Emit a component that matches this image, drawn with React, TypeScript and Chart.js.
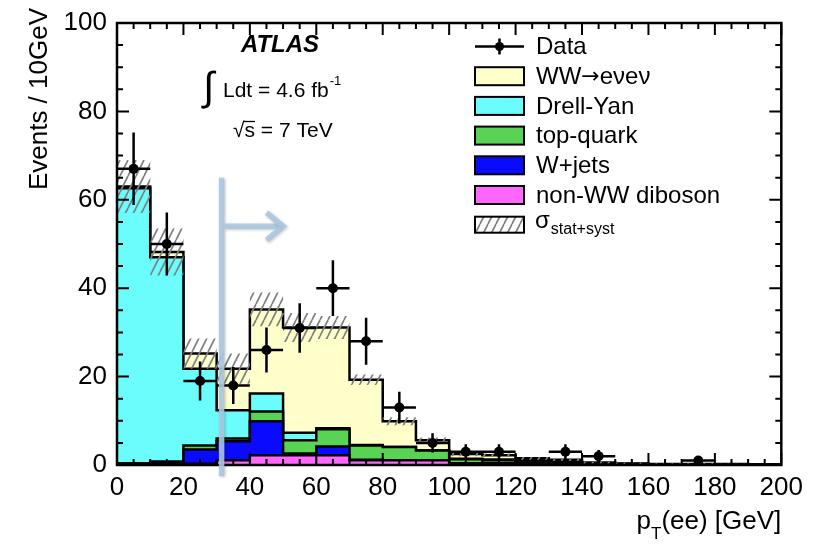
import { useEffect, useRef } from 'react';
import { Chart, registerables } from 'chart.js';

Chart.register(...registerables);

// ---------- data ----------
const binEdges = [0, 10, 20, 30, 40, 50, 60, 70, 80, 90, 100, 110, 120, 130, 140, 150, 160, 170, 180, 190, 200];
const binCenters = [5, 15, 25, 35, 45, 55, 65, 75, 85, 95, 105, 115, 125, 135, 145, 155, 165, 175, 185, 195];

const dataCounts = [67, 50, 19, 18, 26, 31, 40, 28, 13, 5, 3, 3, 0, 3, 2, 0, 0, 1, 0, 0];
const dataErrors = [8.2, 7.1, 4.4, 4.2, 5.1, 5.6, 6.3, 5.3, 3.6, 2.2, 1.7, 1.7, 0, 1.7, 1.4, 0, 0, 1.0, 0, 0];

// stacked backgrounds, bottom to top
const nonWWDiboson = [0.1, 0.1, 0.3, 1.1, 2.2, 2.2, 2.2, 1.1, 1.1, 1.1, 0.3, 0.3, 0.3, 0.1, 0.1, 0.05, 0.05, 0.05, 0.05, 0.05];
const wJets = [0.2, 0.5, 3.2, 4.3, 7.7, 0.4, 2.0, 0.1, 0, 0, 0.1, 0.2, 0.4, 0.1, 0.05, 0.05, 0, 0, 0, 0];
const topQuark = [0.1, 0.2, 0.9, 0.6, 2.2, 3.0, 3.9, 3.2, 3.0, 2.2, 0.9, 0.7, 0.4, 0.5, 0.2, 0.1, 0.1, 0.1, 0.05, 0.05];
const drellYan = [62.2, 46.2, 17.4, 6.4, 4.1, 1.7, 0.2, 0.1, 0, 0, 0.1, 0, 0, 0, 0, 0, 0, 0, 0, 0];
const wwSignal = [0.4, 1.2, 3.4, 9.4, 19.0, 23.8, 22.8, 14.8, 5.8, 2.3, 1.1, 1.0, 0.4, 0.5, 0.2, 0.15, 0.1, 0.1, 0.1, 0.05];

// stat+syst uncertainty on the total prediction
const bandErrors = [6.0, 5.3, 3.4, 3.4, 3.8, 3.3, 2.6, 1.2, 0.9, 0.6, 0.5, 0.4, 0.3, 0.3, 0.2, 0.2, 0.15, 0.15, 0.1, 0.1];

const xMajorTicks = [0, 20, 40, 60, 80, 100, 120, 140, 160, 180, 200];
const yMajorTicks = [0, 20, 40, 60, 80, 100];

const legendLabels = ['Data', 'WW\u2192e\u03BDe\u03BD', 'Drell-Yan', 'top-quark', 'W+jets', 'non-WW diboson'];

// cut arrow annotation (GeV / events)
const cutValue = 31.5;

// ---------- styles ----------
const FONT = '"Liberation Sans", Arial, Helvetica, sans-serif';
const colWW = '#ffffcc';
const colDY = '#6bfcfc';
const colTop = '#59d354';
const colWJ = '#0a0aff';
const colDib = '#ff66ff';

function cumulative(layers: number[][]): number[][] {
  const out: number[][] = [];
  let acc = layers[0].map(() => 0);
  for (const l of layers) {
    acc = acc.map((a, i) => a + l[i]);
    out.push(acc.slice());
  }
  return out;
}

function stepPoints(vals: number[]) {
  const pts = vals.map((v, i) => ({ x: binEdges[i], y: v }));
  pts.push({ x: binEdges[binEdges.length - 1], y: vals[vals.length - 1] });
  return pts;
}

function makeHatch(): CanvasPattern | string {
  const c = document.createElement('canvas');
  c.width = 8;
  c.height = 16;
  const g = c.getContext('2d');
  if (!g) return 'rgba(128,128,128,0.4)';
  g.strokeStyle = '#808080';
  g.lineWidth = 1.7;
  g.beginPath();
  for (const dx of [-8, 0, 8]) {
    g.moveTo(dx, 16);
    g.lineTo(dx + 8, 0);
  }
  g.stroke();
  return g.createPattern(c, 'repeat') as CanvasPattern;
}

export default function App() {
  const ref = useRef<HTMLCanvasElement>(null);

  useEffect(() => {
    const canvas = ref.current;
    if (!canvas) return;
    const hatch = makeHatch();

    const cum = cumulative([nonWWDiboson, wJets, topQuark, drellYan, wwSignal]);
    const total = cum[4];
    const bandUp = total.map((t, i) => t + bandErrors[i]);
    const bandDown = total.map((t, i) => Math.max(0, t - bandErrors[i]));

    const dataPts = binCenters
      .map((x, i) => ({ x, y: dataCounts[i] }))
      .filter((p) => p.y > 0);

    const layerDs = (vals: number[], color: string, order: number, label: string) => ({
      type: 'line' as const,
      label,
      data: stepPoints(vals),
      stepped: 'before' as const,
      fill: 'origin' as const,
      backgroundColor: color,
      borderColor: '#000',
      borderWidth: 2.5,
      pointRadius: 0,
      order,
    });

    const drawMixed = (ctx: CanvasRenderingContext2D, label: string, x: number, y: number) => {
      // render the arrow glyph with a font that has a full-size arrow
      const parts = label.split('\u2192');
      let cx = x;
      parts.forEach((p, k) => {
        ctx.font = `24px ${FONT}`;
        ctx.fillText(p, cx, y);
        cx += ctx.measureText(p).width;
        if (k < parts.length - 1) {
          ctx.font = `22px "DejaVu Sans", sans-serif`;
          ctx.fillText('\u2192', cx, y);
          cx += ctx.measureText('\u2192').width;
        }
      });
      ctx.font = `24px ${FONT}`;
    };

    const extras = {
      id: 'extras',
      afterDraw(chart: any) {
        const ctx: CanvasRenderingContext2D = chart.ctx;
        const xs = chart.scales.x;
        const ys = chart.scales.y;
        const area = chart.chartArea;
        ctx.save();

        // data error bars
        ctx.strokeStyle = '#000';
        ctx.lineWidth = 2.5;
        ctx.beginPath();
        binCenters.forEach((c, i) => {
          if (dataCounts[i] <= 0) return;
          const px = xs.getPixelForValue(c);
          const py = ys.getPixelForValue(dataCounts[i]);
          ctx.moveTo(xs.getPixelForValue(binEdges[i]), py);
          ctx.lineTo(xs.getPixelForValue(binEdges[i + 1]), py);
          ctx.moveTo(px, ys.getPixelForValue(dataCounts[i] + dataErrors[i]));
          ctx.lineTo(px, ys.getPixelForValue(Math.max(0, dataCounts[i] - dataErrors[i])));
        });
        ctx.stroke();

        // frame
        ctx.lineWidth = 2.5;
        ctx.strokeRect(area.left, area.top, area.right - area.left, area.bottom - area.top);

        // ticks (inside the frame, on all sides)
        ctx.lineWidth = 2;
        ctx.beginPath();
        for (let v = 0; v <= 200; v += 5) {
          const len = v % 20 === 0 ? 12 : 6;
          const px = xs.getPixelForValue(v);
          ctx.moveTo(px, area.bottom);
          ctx.lineTo(px, area.bottom - len);
          ctx.moveTo(px, area.top);
          ctx.lineTo(px, area.top + len);
        }
        for (let v = 0; v <= 100; v += 5) {
          const len = v % 20 === 0 ? 12 : 6;
          const py = ys.getPixelForValue(v);
          ctx.moveTo(area.left, py);
          ctx.lineTo(area.left + len, py);
          ctx.moveTo(area.right, py);
          ctx.lineTo(area.right - len, py);
        }
        ctx.stroke();

        // cut arrow
        ctx.save();
        ctx.strokeStyle = 'rgba(172,200,224,0.9)';
        ctx.lineWidth = 5.5;
        ctx.lineCap = 'butt';
        ctx.shadowColor = 'rgba(0,0,0,0.25)';
        ctx.shadowBlur = 3;
        ctx.shadowOffsetX = 1;
        ctx.shadowOffsetY = 1;
        const cx = xs.getPixelForValue(cutValue);
        ctx.beginPath();
        ctx.moveTo(cx, ys.getPixelForValue(65));
        ctx.lineTo(cx, ys.getPixelForValue(-2.5));
        ctx.stroke();
        ctx.beginPath();
        ctx.moveTo(cx + 3, ys.getPixelForValue(54));
        ctx.lineTo(xs.getPixelForValue(49.5), ys.getPixelForValue(54));
        ctx.stroke();
        ctx.beginPath();
        ctx.lineJoin = 'miter';
        ctx.moveTo(xs.getPixelForValue(45), ys.getPixelForValue(57.1));
        ctx.lineTo(xs.getPixelForValue(50), ys.getPixelForValue(54));
        ctx.lineTo(xs.getPixelForValue(45), ys.getPixelForValue(50.9));
        ctx.stroke();
        ctx.restore();

        // axis titles
        ctx.fillStyle = '#000';
        ctx.textBaseline = 'alphabetic';
        ctx.save();
        ctx.translate(47, 8);
        ctx.rotate(-Math.PI / 2);
        ctx.textAlign = 'right';
        ctx.font = `26px ${FONT}`;
        ctx.fillText('Events / 10GeV', 0, 0);
        ctx.restore();

        ctx.textAlign = 'left';
        const bigF = `26px ${FONT}`;
        const subF = `17px ${FONT}`;
        ctx.font = bigF;
        const wP = ctx.measureText('p').width;
        const wRest = ctx.measureText('(ee) [GeV]').width;
        ctx.font = subF;
        const wT = ctx.measureText('T').width;
        const xStart = area.right - (wP + wT + wRest);
        const base = 529;
        ctx.font = bigF;
        ctx.fillText('p', xStart, base);
        ctx.font = subF;
        ctx.fillText('T', xStart + wP, base + 10);
        ctx.font = bigF;
        ctx.fillText('(ee) [GeV]', xStart + wP + wT, base);

        // ATLAS labels
        ctx.textAlign = 'center';
        ctx.font = `italic bold 24px ${FONT}`;
        ctx.fillText('ATLAS', 280, 52);
        ctx.textAlign = 'left';
        ctx.font = `40px ${FONT}`;
        ctx.fillText('\u222B', 203, 100);
        ctx.font = `21px ${FONT}`;
        ctx.fillText('Ldt = 4.6 fb', 223, 97);
        const wL = ctx.measureText('Ldt = 4.6 fb').width;
        ctx.font = `13px ${FONT}`;
        ctx.fillText('-1', 223 + wL + 1, 85);
        ctx.font = `21px ${FONT}`;
        const wRad = ctx.measureText('\u221A').width;
        const wS = ctx.measureText('s').width;
        ctx.fillText('\u221As = 7 TeV', 233, 137);
        ctx.lineWidth = 1.3;
        ctx.beginPath();
        ctx.moveTo(233 + wRad - 1, 121.5);
        ctx.lineTo(233 + wRad + wS, 121.5);
        ctx.stroke();

        // legend
        const lx = 475;
        const bw = 49;
        const bh = 18;
        const tx = 536;
        const row0 = 46.5;
        const step = 29.7;
        ctx.font = `24px ${FONT}`;
        ctx.textBaseline = 'middle';
        // Data entry
        ctx.strokeStyle = '#000';
        ctx.lineWidth = 2.5;
        ctx.beginPath();
        ctx.moveTo(lx, row0);
        ctx.lineTo(lx + bw, row0);
        ctx.moveTo(lx + bw / 2, row0 - 8);
        ctx.lineTo(lx + bw / 2, row0 + 8);
        ctx.stroke();
        ctx.beginPath();
        ctx.arc(lx + bw / 2, row0, 4.5, 0, Math.PI * 2);
        ctx.fillStyle = '#000';
        ctx.fill();
        ctx.fillText(legendLabels[0], tx, row0 + 1);
        const boxColors = [colWW, colDY, colTop, colWJ, colDib];
        boxColors.forEach((c, k) => {
          const yc = row0 + step * (k + 1);
          ctx.fillStyle = c;
          ctx.fillRect(lx, yc - bh / 2, bw, bh);
          ctx.lineWidth = 2;
          ctx.strokeStyle = '#000';
          ctx.strokeRect(lx, yc - bh / 2, bw, bh);
          ctx.fillStyle = '#000';
          drawMixed(ctx, legendLabels[k + 1], tx, yc + 1);
        });
        const ySig = row0 + step * 6;
        ctx.fillStyle = '#fff';
        ctx.fillRect(lx, ySig - 8, bw, 16);
        ctx.fillStyle = hatch as any;
        ctx.fillRect(lx, ySig - 8, bw, 16);
        ctx.strokeStyle = '#000';
        ctx.lineWidth = 2;
        ctx.strokeRect(lx, ySig - 8, bw, 16);
        ctx.fillStyle = '#000';
        ctx.textBaseline = 'alphabetic';
        ctx.font = `24px ${FONT}`;
        ctx.fillText('\u03C3', tx - 1, ySig + 3);
        const wSig = ctx.measureText('\u03C3').width;
        ctx.font = `16px ${FONT}`;
        ctx.fillText('stat+syst', tx - 1 + wSig + 1, ySig + 9);

        ctx.restore();
      },
    };

    const chart = new Chart(canvas, {
      type: 'line',
      data: {
        datasets: [
          layerDs(cum[0], colDib, 16, 'non-WW diboson'),
          layerDs(cum[1], colWJ, 17, 'W+jets'),
          layerDs(cum[2], colTop, 18, 'top-quark'),
          layerDs(cum[3], colDY, 19, 'Drell-Yan'),
          layerDs(cum[4], colWW, 20, 'WW'),
          {
            type: 'line',
            label: 'band-up',
            data: stepPoints(bandUp),
            stepped: 'before',
            fill: false,
            borderWidth: 0,
            borderColor: 'rgba(0,0,0,0)',
            pointRadius: 0,
            order: 10,
          },
          {
            type: 'line',
            label: 'band-down',
            data: stepPoints(bandDown),
            stepped: 'before',
            fill: '-1',
            backgroundColor: hatch as any,
            borderWidth: 0,
            borderColor: 'rgba(0,0,0,0)',
            pointRadius: 0,
            order: 9,
          },
          {
            type: 'scatter',
            label: 'Data',
            data: dataPts,
            pointRadius: 5,
            pointBackgroundColor: '#000',
            pointBorderWidth: 0,
            showLine: false,
            order: 1,
          },
        ] as any,
      },
      options: {
        animation: false,
        responsive: false,
        events: [],
        layout: { padding: { top: 15, right: 30, left: 0, bottom: 0 } },
        plugins: { legend: { display: false }, tooltip: { enabled: false }, title: { display: false } },
        scales: {
          x: {
            type: 'linear',
            min: 0,
            max: 200,
            grid: { display: false, drawTicks: false },
            border: { display: false },
            afterBuildTicks: (s: any) => {
              s.ticks = xMajorTicks.map((v) => ({ value: v }));
            },
            afterFit: (s: any) => {
              s.height = 82;
            },
            ticks: {
              color: '#000',
              font: { family: FONT, size: 26, lineHeight: 1 },
              padding: 10,
              maxRotation: 0,
              autoSkip: false,
            },
          },
          y: {
            type: 'linear',
            min: 0,
            max: 100,
            grid: { display: false, drawTicks: false },
            border: { display: false },
            afterBuildTicks: (s: any) => {
              s.ticks = yMajorTicks.map((v) => ({ value: v }));
            },
            afterFit: (s: any) => {
              s.width = 117;
            },
            ticks: {
              color: '#000',
              font: { family: FONT, size: 26, lineHeight: 1 },
              padding: 10,
              autoSkip: false,
            },
          },
        },
      },
      plugins: [extras],
    });

    return () => chart.destroy();
  }, []);

  return (
    <div style={{ position: 'fixed', left: 0, top: 0, width: 813, height: 547, background: '#fff' }}>
      <canvas ref={ref} width={813} height={547} style={{ display: 'block' }} />
    </div>
  );
}
